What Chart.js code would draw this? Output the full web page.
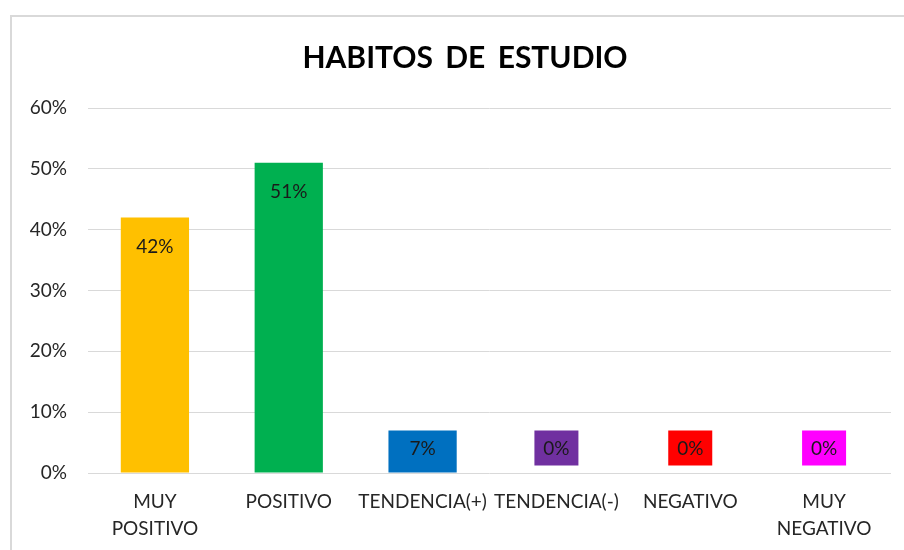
<!DOCTYPE html>
<html>
<head>
<meta charset="utf-8">
<script src="https://cdn.jsdelivr.net/npm/chart.js@4"></script>
<style>
html,body{margin:0;padding:0;background:#fff;}
#wrap{position:relative;width:904px;height:550px;}
</style>
</head>
<body>
<div id="wrap"><canvas id="c" width="904" height="550"></canvas></div>
<script>
const categories = [["MUY","POSITIVO"], "POSITIVO", "TENDENCIA(+)", "TENDENCIA(-)", "NEGATIVO", ["MUY","NEGATIVO"]];
const values = [42, 51, 7, 0, 0, 0];
const barColors = ["#FFC000", "#00B050", "#0070C0", "#7030A0", "#FF0000", "#FF00FF"];
const yTicks = [0, 10, 20, 30, 40, 50, 60];
const chartTitle = "HABITOS DE ESTUDIO";

const FONT = "Lato, 'Open Sans', sans-serif";

const framePlugin = {
  id: 'frame',
  beforeDraw(chart) {
    const ctx = chart.ctx;
    ctx.save();
    ctx.fillStyle = '#fff';
    ctx.fillRect(0, 0, chart.width, chart.height);
    ctx.strokeStyle = '#d9d9d9';
    ctx.lineWidth = 2;
    ctx.strokeRect(11, 16, 2000, 2000);
    ctx.font = "bold 30px " + FONT;
    ctx.fillStyle = '#000';
    ctx.textAlign = 'center';
    ctx.textBaseline = 'middle';
    try { ctx.wordSpacing = '5px'; } catch (e) {}
    ctx.fillText(chartTitle, 465, 58);
    ctx.restore();
  }
};

const labelPlugin = {
  id: 'barLabels',
  afterDatasetsDraw(chart) {
    const ctx = chart.ctx;
    const meta = chart.getDatasetMeta(0);
    const yScale = chart.scales.y;
    const zeroY = yScale.getPixelForValue(0);
    ctx.save();
    ctx.font = "19px " + FONT;
    ctx.textAlign = 'center';
    ctx.textBaseline = 'middle';
    meta.data.forEach((bar, i) => {
      const v = values[i];
      const cy = Math.min(bar.y + 28, zeroY - 25);
      const txt = v + '%';
      if (v === 0) {
        const w = 44, h = 35;
        ctx.fillStyle = barColors[i];
        ctx.fillRect(bar.x - w / 2, cy - h / 2, w, h);
      }
      ctx.fillStyle = '#1a1a1a';
      ctx.fillText(txt, bar.x, cy + 1);
    });
    ctx.restore();
  }
};

new Chart(document.getElementById('c'), {
  type: 'bar',
  data: {
    labels: categories,
    datasets: [{
      data: values,
      backgroundColor: barColors,
      borderWidth: 0,
      categoryPercentage: 1.0,
      barPercentage: 0.51
    }]
  },
  plugins: [framePlugin, labelPlugin],
  options: {
    responsive: false,
    animation: false,
    devicePixelRatio: 1,
    layout: { padding: { left: 0, right: 13, top: 108, bottom: 0 } },
    plugins: {
      legend: { display: false },
      tooltip: { enabled: false },
      title: { display: false }
    },
    scales: {
      x: {
        grid: { display: false, drawTicks: false },
        border: { display: false },
        ticks: {
          color: '#262626',
          font: { family: FONT, size: 19, lineHeight: 1.42 },
          padding: 15,
          maxRotation: 0,
          autoSkip: false
        },
        afterFit(scale) { scale.height = 77; }
      },
      y: {
        min: 0,
        max: 60,
        afterBuildTicks(scale) { scale.ticks = yTicks.map(v => ({ value: v })); },
        grid: { color: '#d9d9d9', lineWidth: 1, drawTicks: false },
        border: { display: false },
        ticks: {
          color: '#262626',
          font: { family: FONT, size: 19 },
          padding: 21,
          callback: v => v + '%'
        },
        afterFit(scale) { scale.width = 88; }
      }
    }
  }
});
</script>
</body>
</html>
